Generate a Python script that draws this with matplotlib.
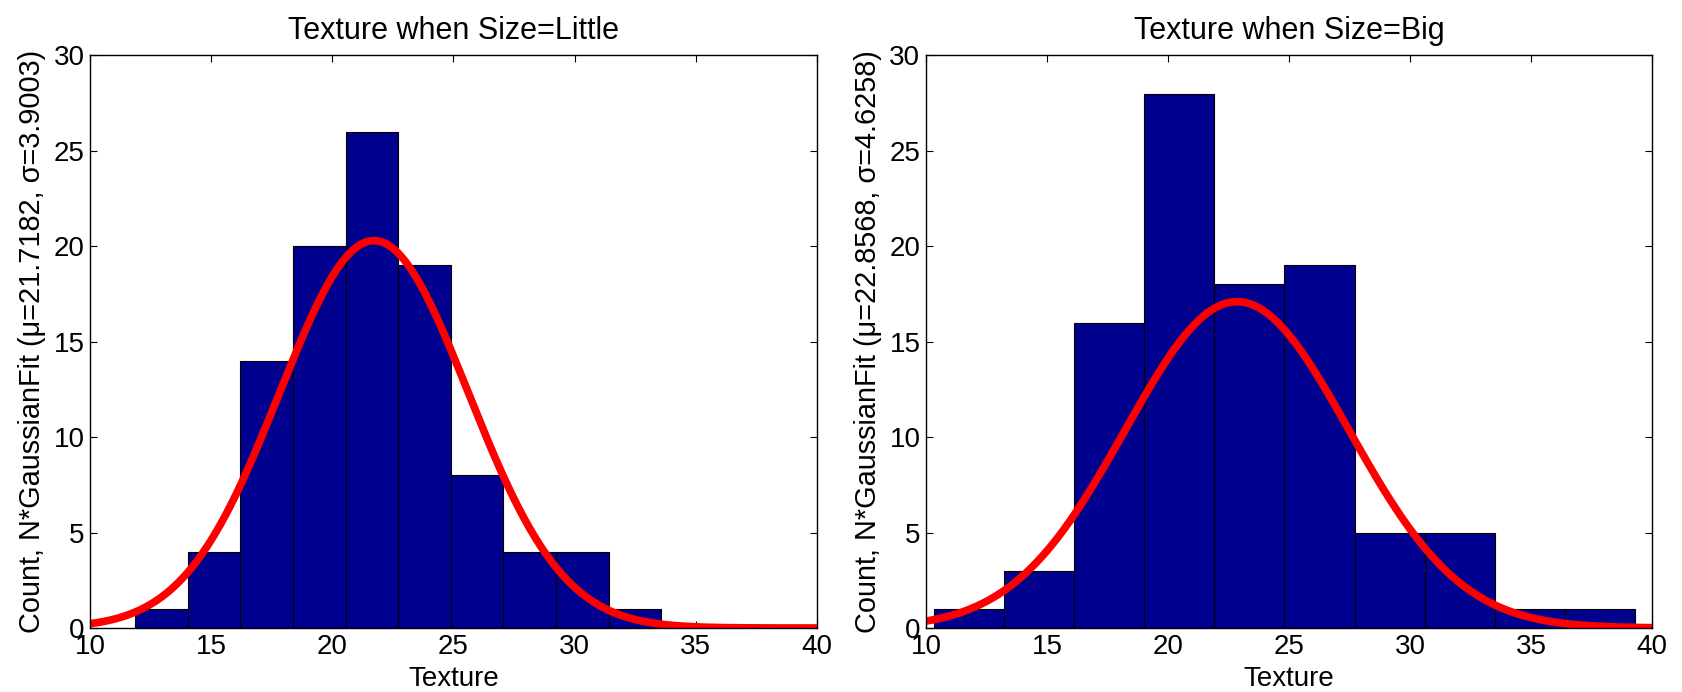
import numpy as np
import matplotlib
matplotlib.use("Agg")
import matplotlib.pyplot as plt

plt.rcParams['font.family'] = ['Liberation Sans', 'DejaVu Sans']

# Data
little_counts = [1, 4, 14, 20, 26, 19, 8, 4, 4, 1]
little_range = (11.86, 33.58)
little_mu, little_sigma, little_peak = 21.7182, 3.9003, 20.3

big_counts = [1, 3, 16, 28, 18, 19, 5, 5, 1, 1]
big_range = (10.33, 39.3)
big_mu, big_sigma, big_peak = 22.8568, 4.6258, 17.1

titles = ["Texture when Size=Little", "Texture when Size=Big"]
xticks = [10, 15, 20, 25, 30, 35, 40]
yticks = [0, 5, 10, 15, 20, 25, 30]

fig = plt.figure(figsize=(16.82, 6.92), dpi=100)
axes_pos = [[0.0535, 0.0925, 0.4322, 0.8273], [0.5505, 0.0925, 0.4316, 0.8273]]

datasets = [
    (little_counts, little_range, little_mu, little_sigma, little_peak),
    (big_counts, big_range, big_mu, big_sigma, big_peak),
]

fs = 20
for pos, (counts, rng, mu, sigma, peak), title in zip(axes_pos, datasets, titles):
    ax = fig.add_axes(pos)
    edges = np.linspace(rng[0], rng[1], len(counts) + 1)
    ax.bar(edges[:-1], counts, width=np.diff(edges), align='edge',
           color='#00008F', edgecolor='black', linewidth=0.8, zorder=2)
    xs = np.linspace(10, 40, 400)
    ys = peak * np.exp(-0.5 * ((xs - mu) / sigma) ** 2)
    ax.plot(xs, ys, color='#FF0000', linewidth=5.5, zorder=3, solid_capstyle='butt')
    ax.set_xlim(10, 40)
    ax.set_ylim(0, 30)
    ax.set_xticks(xticks)
    ax.set_yticks(yticks)
    ax.tick_params(direction='in', length=5, width=0.8, top=True, right=True,
                   labelsize=fs, pad=4)
    for s in ax.spines.values():
        s.set_linewidth(1.0)
        s.set_zorder(4)
    ax.set_title(title, fontsize=22, pad=12)
    ax.set_xlabel("Texture", fontsize=fs, labelpad=5)
    ax.set_ylabel(f"Count, N*GaussianFit (\u03bc={mu:.4f}, \u03c3={sigma:.4f})",
                  fontsize=20.8, labelpad=5)

fig.savefig("out.png", dpi=100)
